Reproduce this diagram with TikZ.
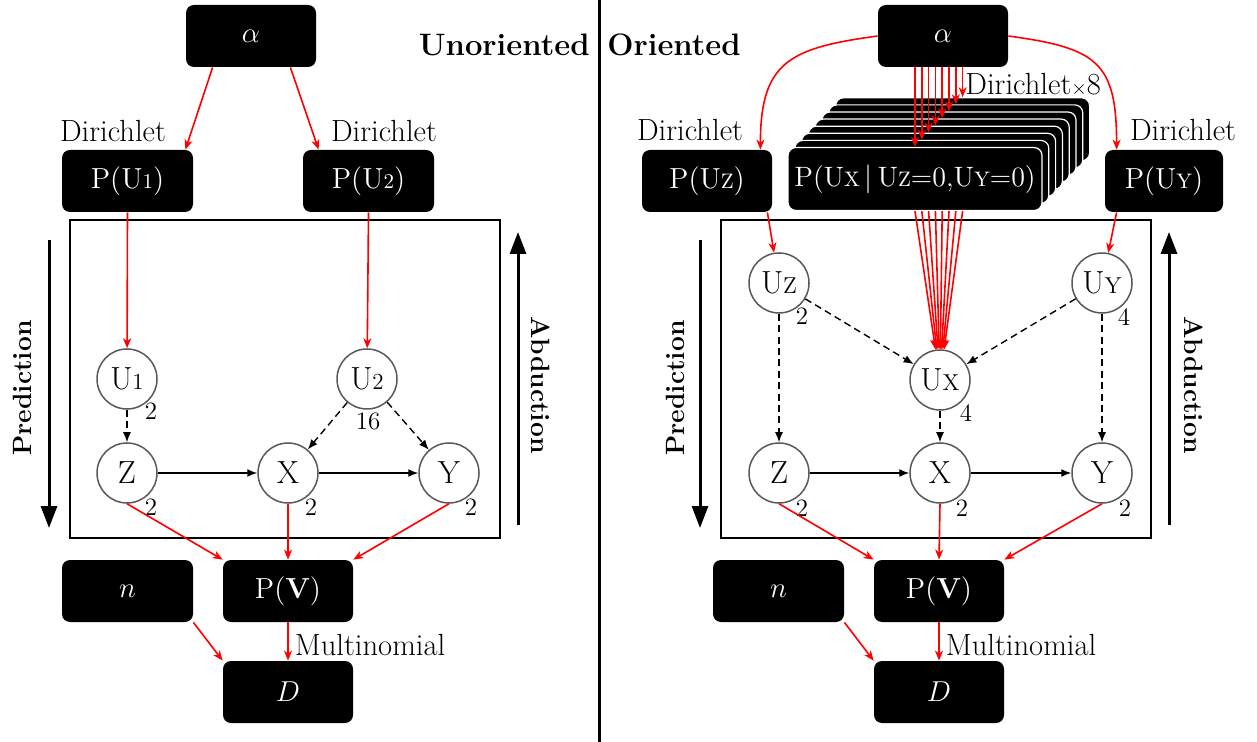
\documentclass[tikz,border=0pt]{standalone}
\usetikzlibrary{arrows.meta,calc}
% reduced-size capitals and figures used inside variable names
\newcommand\sm[1]{{\fontsize{10.5}{12}\selectfont #1}}
\newcommand\smc[1]{{\fontsize{11.5}{13}\selectfont #1}}
\newcommand\lbl{\fontsize{14.5}{17}\selectfont}
\newcommand\captxt{\fontsize{15.3}{18}\selectfont}
\begin{document}
\begin{tikzpicture}[x=0.5pt,y=-0.5pt,
  box/.style={fill=black,text=white,rounded corners=4pt,minimum width=65pt,minimum height=31pt,inner sep=0pt,font=\lbl},
  stackbox/.style={box,draw=white,line width=0.6pt,minimum width=127pt,minimum height=31.5pt,font=\fontsize{14}{16}\selectfont},
  var/.style={circle,draw=black!65,line width=0.75pt,minimum size=30pt,inner sep=0pt,fill=white,font=\fontsize{16}{18}\selectfont},
  num/.style={font=\fontsize{12.5}{14}\selectfont,inner sep=0pt},
  lab/.style={font=\captxt,inner sep=0pt},
  prior/.style={draw=red,line width=0.8pt,-{Stealth[length=5pt,width=4pt,inset=1.5pt]}},
  causal/.style={draw=black,line width=0.7pt,-{Latex[length=5pt,width=4pt]}},
  latent/.style={causal,dash pattern=on 3.5pt off 2.2pt},
  flow/.style={draw=black,line width=1.5pt,-{Triangle[length=11pt,width=8pt]}},
  panelframe/.style={draw=black,line width=0.75pt},
  side/.style={font=\bfseries\fontsize{13.2}{15}\selectfont,inner sep=0pt},
  heading/.style={font=\bfseries\fontsize{15.5}{18}\selectfont,inner sep=0pt}
]
\useasboundingbox (0,0) rectangle (1257,742);

% ---------- headings and divider ----------
\node[heading,anchor=base east] (tU) at (590,56) {Unoriented};
\node[heading,anchor=base west] (tO) at (607,56) {Oriented};
\coordinate (divtop) at (599,0);
\coordinate (divbot) at (599,742);
\draw[line width=1.5pt] (divtop) -- (divbot);

% ================= unoriented model =================
\node[box] (aL) at (251,36) {$\alpha$};
\node[box,minimum width=65.5pt] (pu1) at (127.5,181) {P(U\sm{1})};
\node[box,minimum width=65.5pt] (pu2) at (368.5,181) {P(U\sm{2})};
\node[lab] (dl1) at (113,131) {Dirichlet};
\node[lab] (dl2) at (384,131) {Dirichlet};

\draw[panelframe] (70,220) rectangle (500,538);

\node[var] (u1) at (127,379) {U\smc{1}};
\node[var] (u2) at (367,379) {U\smc{2}};
\node[var] (z) at (127,473) {Z};
\node[var] (x) at (288,473) {X};
\node[var] (y) at (449,473) {Y};
\node[num] (nu1) at (151,411) {2};
\node[num] (nu2) at (368,421) {16};
\node[num] (nz) at (151,507) {2};
\node[num] (nx) at (311,507) {2};
\node[num] (ny) at (471,507) {2};

\node[box] (pv) at (288,591) {P(\textbf{V})};
\node[box,minimum width=65.5pt] (n) at (127.5,591) {$n$};
\node[box] (d) at (288,692) {$D$};

\draw[prior] ($(aL.south west)+(27,0)$) -- ($(pu1.north east)+(-8,0)$);
\draw[prior] ($(aL.south east)+(-26,0)$) -- ($(pu2.north west)+(16,0)$);
\draw[prior] (pu1.south) -- (u1);
\draw[prior] (pu2.south) -- (u2);
\draw[latent] (u1) -- (z);
\draw[latent] (u2) -- (x);
\draw[latent] (u2) -- (y);
\draw[causal] (z) -- (x);
\draw[causal] (x) -- (y);
\draw[prior] (z.south) -- (pv.north west);
\draw[prior] (x.south) -- (pv.north);
\draw[prior] (y.south) -- (pv.north east);
\draw[prior] (pv.south) -- node[lab,anchor=west,xshift=3pt,yshift=-2pt] (ml) {Multinomial} (d.north);
\draw[prior] (n.south east) -- (d.north west);

\coordinate (pa) at (49,240);
\coordinate (pb) at (49,528);
\draw[flow] (pa) -- (pb);
\node[side,rotate=90] (pt) at (22,388) {Prediction};
\coordinate (qa) at (518,525);
\coordinate (qb) at (518,232);
\draw[flow] (qa) -- (qb);
\node[side,rotate=-90] (qt) at (541,385) {Abduction};

% ================= oriented model =================
\node[box] (aR) at (943,36) {$\alpha$};
\node[box] (pz) at (707,181) {P(U\sm{Z})};
\node[box,minimum width=59pt] (py) at (1164,181) {P(U\sm{Y})};
\node[lab] (dl3) at (690,130) {Dirichlet};
\node[lab] (dl4) at (1183,130) {Dirichlet};

% stack of eight conditional distributions, back to front
\foreach \k in {7,6,...,1}
  \node[stackbox] (bk\k) at ({915+6.8*\k},{179-7.1*\k}) {};
\node[stackbox] (bk0) at (915,179) {P(U\sm{X}$\,|\,$U\sm{Z}=0,U\sm{Y}=0)};
\node[lab,anchor=west] (dl8) at (965,85) {Dirichlet{\fontsize{10}{12}\selectfont$\times$}8};

\draw[panelframe] (721,220) rectangle (1151,538);

\node[var] (uz) at (779,283) {U\smc{Z}};
\node[var] (uy) at (1102,283) {U\smc{Y}};
\node[var] (ux) at (940,380) {U\smc{X}};
\node[var] (z2) at (779,473) {Z};
\node[var] (x2) at (940,473) {X};
\node[var] (y2) at (1102,473) {Y};
\node[num] (nuz) at (802,316) {2};
\node[num] (nuy) at (1124,317) {4};
\node[num] (nux) at (966,413) {4};
\node[num] (nz2) at (802,508) {2};
\node[num] (nx2) at (962,508) {2};
\node[num] (ny2) at (1125,508) {2};

\node[box] (pv2) at (939,591) {P(\textbf{V})};
\node[box,minimum width=65.5pt] (n2) at (778.5,591) {$n$};
\node[box] (d2) at (939,692) {$D$};

\draw[prior] (aR.west) .. controls ($(aR.west)+(-88,12)$) and ($(pz.north east)+(-12,-88)$) .. ($(pz.north east)+(-12,0)$);
\draw[prior] (aR.east) .. controls ($(aR.east)+(88,12)$) and ($(py.north west)+(12,-88)$) .. ($(py.north west)+(12,0)$);
\foreach \k in {0,...,7}
  \draw[prior] (aR.south -| bk\k.north) -- (bk\k.north);
\foreach \k in {0,...,7}
  \draw[prior] (bk0.south -| bk\k.center) -- (ux);
\draw[prior] ($(pz.south east)+(-5,0)$) -- (uz);
\draw[prior] ($(py.south west)+(12,0)$) -- (uy);

\draw[latent] (uz) -- (z2);
\draw[latent] (uz) -- (ux);
\draw[latent] (uy) -- (ux);
\draw[latent] (uy) -- (y2);
\draw[latent] (ux) -- (x2);
\draw[causal] (z2) -- (x2);
\draw[causal] (x2) -- (y2);
\draw[prior] (z2.south) -- (pv2.north west);
\draw[prior] (x2.south) -- (pv2.north);
\draw[prior] (y2.south) -- (pv2.north east);
\draw[prior] (pv2.south) -- node[lab,anchor=west,xshift=3pt,yshift=-2pt] (ml2) {Multinomial} (d2.north);
\draw[prior] (n2.south east) -- (d2.north west);

\coordinate (pc) at (700,240);
\coordinate (pd) at (700,528);
\draw[flow] (pc) -- (pd);
\node[side,rotate=90] (pt2) at (675,388) {Prediction};
\coordinate (qc) at (1169,525);
\coordinate (qd) at (1169,232);
\draw[flow] (qc) -- (qd);
\node[side,rotate=-90] (qt2) at (1194,385) {Abduction};
\end{tikzpicture}
\end{document}
